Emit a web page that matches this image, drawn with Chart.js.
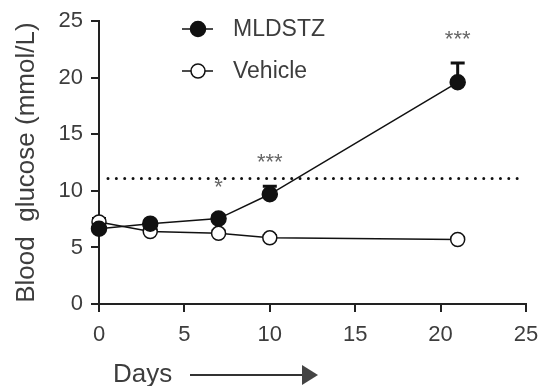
<!DOCTYPE html>
<html>
<head>
<meta charset="utf-8">
<script src="https://cdn.jsdelivr.net/npm/chart.js@4.4.1/dist/chart.umd.min.js"></script>
<style>
    html, body { margin: 0; padding: 0; background: #fff; }
    #wrap { width: 539px; height: 386px; }
</style>
</head>
<body>
<div id="wrap"><canvas id="glucoseChart" width="539" height="386"></canvas></div>
<script>
const days = [0, 3, 7, 10, 21];
const mldstz = [6.65, 7.1, 7.55, 9.7, 19.6];
const mldstzSem = [0.3, 0.2, 0.3, 0.72, 1.7];
const vehicle = [7.25, 6.4, 6.25, 5.85, 5.7];
const vehicleSem = [0.3, 0.2, 0.2, 0.2, 0.2];
const significance = ['', '', '*', '***', '***'];
const threshold = 11.1;
const axisTicks = [0, 5, 10, 15, 20, 25];

const textColor = '#3d3d3d';
const fontFamily = "Arial, 'Liberation Sans', Helvetica, sans-serif";

const toPoints = (ys) => days.map((d, i) => ({ x: d, y: ys[i] }));

// Draws legend, threshold line, error bars, asterisks and the Days arrow
const extras = {
    id: 'extras',
    beforeDatasetsDraw(chart) {
        const { ctx, chartArea, scales: { x, y } } = chart;

        // dotted threshold line
        const ty = y.getPixelForValue(threshold);
        ctx.save();
        ctx.strokeStyle = '#111';
        ctx.lineWidth = 3;
        ctx.lineCap = 'round';
        ctx.setLineDash([0, 8.35]);
        ctx.beginPath();
        ctx.moveTo(chartArea.left + 9, ty);
        ctx.lineTo(chartArea.right - 6, ty);
        ctx.stroke();
        ctx.restore();

        // error bars (upper half only)
        const drawErr = (vals, sems) => {
            ctx.save();
            ctx.strokeStyle = '#111';
            ctx.lineWidth = 3;
            vals.forEach((v, i) => {
                const px = x.getPixelForValue(days[i]);
                const py = y.getPixelForValue(v);
                const top = y.getPixelForValue(v + sems[i]);
                ctx.beginPath();
                ctx.moveTo(px, py);
                ctx.lineTo(px, top);
                ctx.moveTo(px - 7, top);
                ctx.lineTo(px + 7, top);
                ctx.stroke();
            });
            ctx.restore();
        };
        drawErr(vehicle, vehicleSem);
        drawErr(mldstz, mldstzSem);
    },
    afterDraw(chart) {
        const { ctx, scales: { x, y } } = chart;
        ctx.save();

        // significance asterisks
        ctx.fillStyle = '#666';
        ctx.font = '22px ' + fontFamily;
        ctx.textAlign = 'center';
        ctx.textBaseline = 'alphabetic';
        significance.forEach((s, i) => {
            if (!s) return;
            const px = x.getPixelForValue(days[i]);
            const top = Math.min(y.getPixelForValue(mldstz[i] + mldstzSem[i]), y.getPixelForValue(mldstz[i]) - 7.5);
            ctx.fillText(s, px, top - 17);
        });

        // legend
        const ds = chart.data.datasets;
        const rows = [29, 71];
        ds.forEach((d, i) => {
            const ly = rows[i];
            ctx.strokeStyle = '#111';
            ctx.lineWidth = 1.5;
            ctx.beginPath();
            ctx.moveTo(182, ly);
            ctx.lineTo(213, ly);
            ctx.stroke();
            ctx.beginPath();
            ctx.arc(198, ly, d.pointRadius, 0, Math.PI * 2);
            ctx.fillStyle = d.pointBackgroundColor;
            ctx.fill();
            ctx.lineWidth = d.pointBorderWidth;
            ctx.stroke();
            ctx.fillStyle = textColor;
            ctx.font = '23px ' + fontFamily;
            ctx.textAlign = 'left';
            ctx.textBaseline = 'middle';
            ctx.fillText(d.label, 233, ly + 1);
        });

        // Days label with arrow
        ctx.fillStyle = textColor;
        ctx.font = '26px ' + fontFamily;
        ctx.textAlign = 'left';
        ctx.textBaseline = 'alphabetic';
        ctx.fillText('Days', 113, 382);
        ctx.strokeStyle = '#333';
        ctx.lineWidth = 2;
        ctx.beginPath();
        ctx.moveTo(190, 375);
        ctx.lineTo(304, 375);
        ctx.stroke();
        ctx.fillStyle = '#444';
        ctx.beginPath();
        ctx.moveTo(302, 365);
        ctx.lineTo(318, 375);
        ctx.lineTo(302, 385);
        ctx.closePath();
        ctx.fill();

        ctx.restore();
    }
};

const ctx = document.getElementById('glucoseChart').getContext('2d');

const glucoseChart = new Chart(ctx, {
    type: 'line',
    data: {
        datasets: [
            {
                label: 'MLDSTZ',
                data: toPoints(mldstz),
                borderColor: '#111',
                borderWidth: 1.5,
                pointRadius: 7.5,
                pointBackgroundColor: '#111',
                pointBorderColor: '#111',
                pointBorderWidth: 1.5,
                clip: false
            },
            {
                label: 'Vehicle',
                data: toPoints(vehicle),
                borderColor: '#111',
                borderWidth: 1.5,
                pointRadius: 7,
                pointBackgroundColor: '#fff',
                pointBorderColor: '#111',
                pointBorderWidth: 1.5,
                clip: false
            }
        ]
    },
    options: {
        responsive: false,
        animation: false,
        layout: { padding: { left: 0, top: 20, right: 0, bottom: 0 } },
        plugins: {
            legend: { display: false },
            tooltip: { enabled: false }
        },
        scales: {
            x: {
                type: 'linear',
                min: 0,
                max: 25,
                afterFit: (s) => { s.height = 82; s.paddingLeft = 0; s.paddingRight = 13; },
                afterBuildTicks: (s) => { s.ticks = axisTicks.map(v => ({ value: v })); },
                border: { display: true, color: '#222', width: 2 },
                grid: { drawOnChartArea: false, drawTicks: true, tickLength: 8, color: '#222', lineWidth: 2 },
                ticks: { color: textColor, padding: 10, font: { size: 22, family: fontFamily } }
            },
            y: {
                min: 0,
                max: 25,
                afterFit: (s) => { s.width = 99; },
                afterBuildTicks: (s) => { s.ticks = axisTicks.map(v => ({ value: v })); },
                border: { display: true, color: '#222', width: 2 },
                grid: { drawOnChartArea: false, drawTicks: true, tickLength: 8, color: '#222', lineWidth: 2 },
                ticks: { color: textColor, padding: 8, font: { size: 22, family: fontFamily } },
                title: {
                    display: true,
                    text: 'Blood  glucose (mmol/L)',
                    color: textColor,
                    font: { size: 26, family: fontFamily },
                    padding: { top: 11, bottom: 0 }
                }
            }
        }
    },
    plugins: [extras]
});
</script>
</body>
</html>
